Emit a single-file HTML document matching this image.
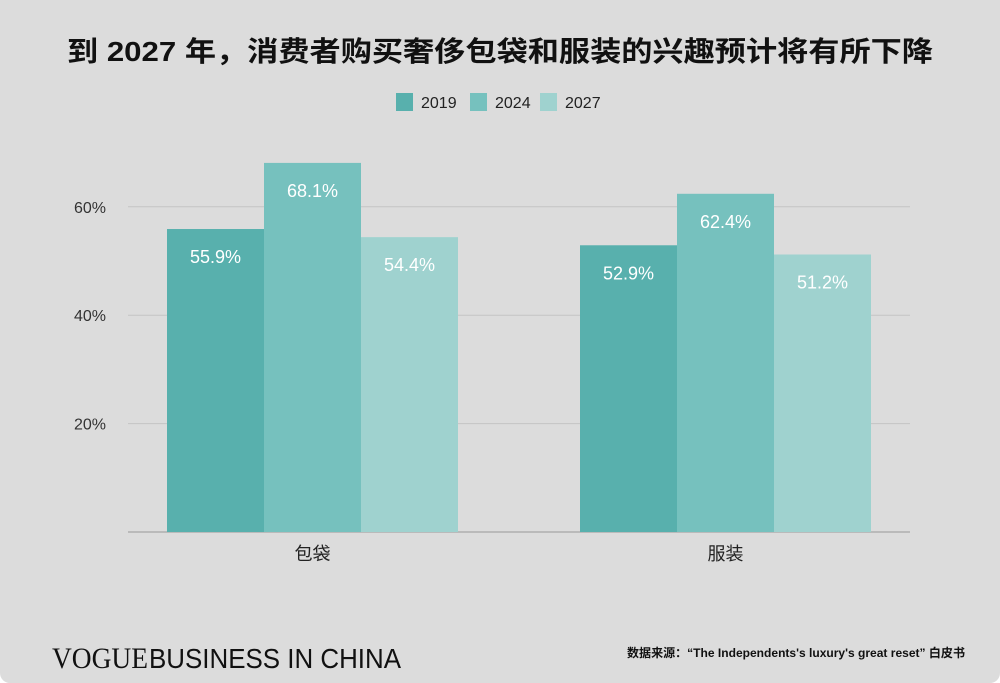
<!DOCTYPE html>
<html><head><meta charset="utf-8"><style>
body{margin:0;background:#fff}
#c{width:1000px;height:683px;background:#dcdcdc;position:relative;overflow:hidden;border-radius:0 0 10px 10px;font-family:"Liberation Sans","Noto Sans CJK SC",sans-serif}
</style></head><body>
<div id="c">
<svg id="s" width="1000" height="683">
<text x="67" y="61" font-size="28" font-weight="bold" fill="#111" textLength="866" lengthAdjust="spacingAndGlyphs">到 2027 年，消费者购买奢侈包袋和服装的兴趣预计将有所下降</text>
<g>
<rect x="396" y="93" width="17" height="18" fill="#58b0ad"/>
<text x="421" y="108" font-size="16" fill="#222">2019</text>
<rect x="470" y="93" width="17" height="18" fill="#76c1be"/>
<text x="495" y="108" font-size="16" fill="#222">2024</text>
<rect x="540" y="93" width="17" height="18" fill="#9fd2cf"/>
<text x="565" y="108" font-size="16" fill="#222">2027</text>
</g>
<g id="grid"></g><g id="bars"></g>
<text x="52" y="668" font-family="Liberation Serif,serif" font-size="30" fill="#111" textLength="96" lengthAdjust="spacingAndGlyphs">VOGUE</text>
<text x="149" y="668" font-size="28" fill="#111" textLength="252" lengthAdjust="spacingAndGlyphs">BUSINESS IN CHINA</text>
<text x="627" y="657" font-size="12" font-weight="bold" fill="#111" textLength="338" lengthAdjust="spacingAndGlyphs">数据来源：“The Independents's luxury's great reset” 白皮书</text>
</svg></div>
<script>
const categories=["包袋","服装"];
const seriesNames=["2019","2024","2027"];
const v2019=[55.9,52.9];
const v2024=[68.1,62.4];
const v2027=[54.4,51.2];
const yTicks=[20,40,60];
const colors=["#58b0ad","#76c1be","#9fd2cf"];
const NS="http://www.w3.org/2000/svg";
const y0=532,scale=5.42,left=128,right=910;
const yS=v=>y0-v*scale;
const groupStart=[167,580],bw=97;
const xS=(ci,si)=>groupStart[ci]+si*bw;
function mk(t,a,p){const e=document.createElementNS(NS,t);for(const k in a)e.setAttribute(k,a[k]);p.appendChild(e);return e;}
const g=document.getElementById('grid'),b=document.getElementById('bars');
yTicks.forEach(t=>{
 const l=mk('line',{x1:left,x2:right,y1:yS(t),y2:yS(t),stroke:'#c4c4c4','stroke-width':1},g);
 
 
 const tx=mk('text',{x:106,y:yS(t)+6,'text-anchor':'end','font-size':16,fill:'#333'},g);
 tx.textContent=t+'%';
 
 
});
const base=mk('line',{x1:left,x2:right,y1:y0,y2:y0,stroke:'#999','stroke-width':1},g);


const series=[v2019,v2024,v2027];
categories.forEach((c,ci)=>{
 series.forEach((s,si)=>{
  const v=s[ci];
  const r=mk('rect',{x:xS(ci,si),y:yS(v),width:bw,height:y0-yS(v),fill:colors[si]},b);
  
  
  const t=mk('text',{x:xS(ci,si)+bw/2,y:yS(v)+34,'text-anchor':'middle','font-size':18,fill:'#fff'},b);
  t.textContent=v.toFixed(1)+'%';
  
  
 });
 const ct=mk('text',{x:groupStart[ci]+bw*1.5,y:560,'text-anchor':'middle','font-size':18,fill:'#222'},b);
 ct.textContent=c;
 
 
});
</script>
</body></html>
